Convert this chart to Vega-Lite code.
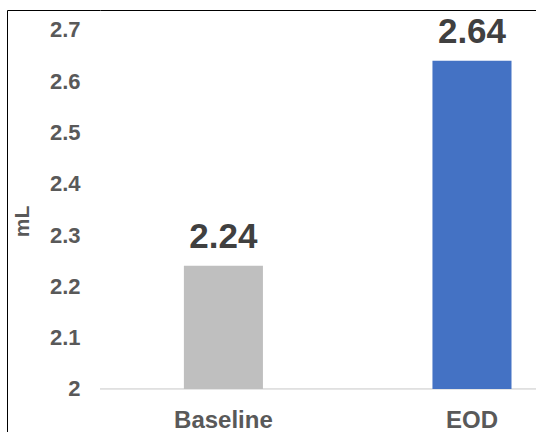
{
  "$schema": "https://vega.github.io/schema/vega-lite/v6.json",
  "width": 436,
  "height": 422,
  "autosize": {"type": "none"},
  "padding": {"left": 100, "top": 10, "right": 0, "bottom": 0},
  "background": "white",
  "config": {"view": {"stroke": null}, "font": "Liberation Sans", "axis": {"grid": false}},
  "data": {"values": [
    {"condition": "Baseline", "value": 2.24},
    {"condition": "EOD", "value": 2.64}
  ]},
  "resolve": {"axis": {"x": "independent", "y": "independent"}},
  "layer": [
    {
      "mark": {"type": "rule", "color": "#D9D9D9", "strokeWidth": 1},
      "encoding": {
        "y": {"datum": 2, "type": "quantitative", "axis": null,
          "scale": {"domain": [1.916, 2.739], "zero": false, "nice": false}}
      }
    },
    {
      "mark": {"type": "bar"},
      "encoding": {
        "x": {"field": "condition", "type": "nominal", "sort": null,
          "scale": {"paddingInner": 0.682, "paddingOuter": 0.218, "align": 0.774},
          "axis": {"orient": "bottom", "offset": -26, "title": null, "domain": false, "ticks": false,
            "labelAngle": 0, "labelFontSize": 24, "labelFontWeight": "bold", "labelColor": "#595959", "labelPadding": 2}},
        "y": {"field": "value", "type": "quantitative",
          "scale": {"domain": [1.916, 2.739], "zero": false, "nice": false},
          "axis": {"orient": "left", "title": "mL", "values": [2, 2.1, 2.2, 2.3, 2.4, 2.5, 2.6, 2.7], "format": "~g",
            "domain": false, "ticks": false, "labelPadding": 20, "labelFontSize": 22, "labelFontWeight": "bold",
            "labelColor": "#595959", "titleFontSize": 21, "titleFontWeight": "bold", "titleColor": "#595959", "titlePadding": 17}},
        "y2": {"datum": 2},
        "color": {"field": "condition", "type": "nominal", "legend": null,
          "scale": {"domain": ["Baseline", "EOD"], "range": ["#BFBFBF", "#4472C4"]}}
      }
    },
    {
      "mark": {"type": "text", "align": "center", "baseline": "alphabetic", "dy": -18, "fontSize": 35, "fontWeight": "bold", "color": "#404040"},
      "encoding": {
        "x": {"field": "condition", "type": "nominal", "sort": null,
          "axis": {"orient": "top", "title": null, "labels": false, "ticks": false, "domain": true, "domainColor": "#000000", "domainWidth": 1}},
        "y": {"field": "value", "type": "quantitative",
          "axis": {"orient": "left", "offset": 93, "title": null, "labels": false, "domain": true, "domainColor": "#000000",
            "values": [2.739], "ticks": true, "tickSize": -93, "tickColor": "#000000", "tickWidth": 1}},
        "text": {"field": "value", "type": "quantitative", "format": ".2f"}
      }
    }
  ]
}
